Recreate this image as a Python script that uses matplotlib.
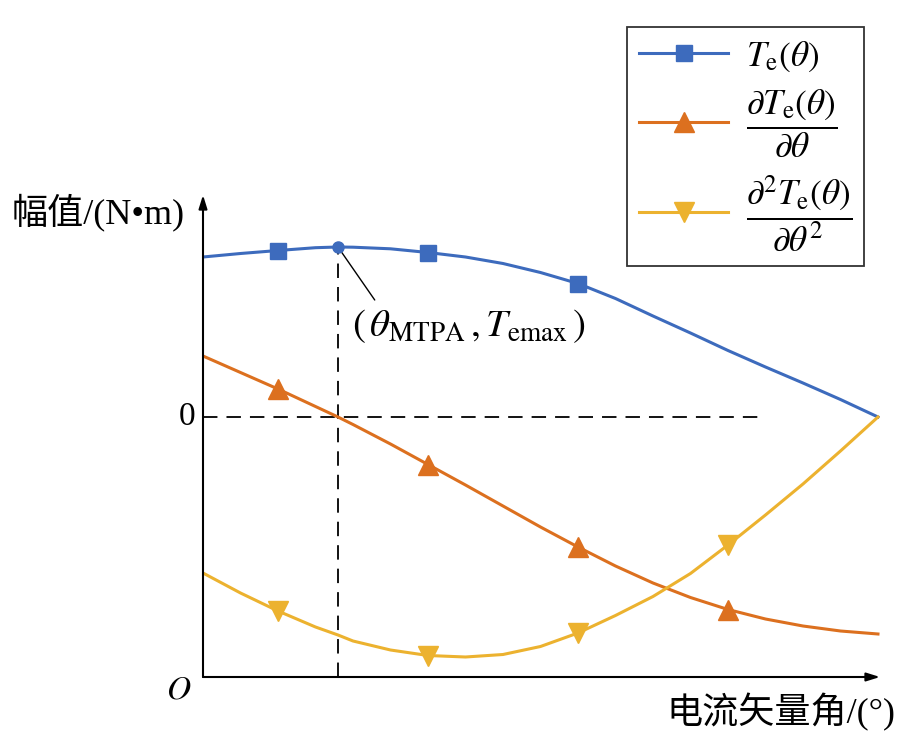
import matplotlib
matplotlib.use("Agg")
import matplotlib.pyplot as plt
from matplotlib.lines import Line2D

plt.rcParams['font.family'] = ['Liberation Serif', 'Noto Sans CJK SC', 'DejaVu Sans']
plt.rcParams['mathtext.fontset'] = 'stix'

# 电流矢量角 (deg), 约每 5 度读一个点, 另加 MTPA 点 18 度
theta = [0, 5, 10, 15, 18, 20, 25, 30, 35, 40, 45, 50, 55, 60, 65, 70, 75, 80, 85, 90]
te = [16.0, 16.35, 16.65, 16.93, 17.0, 16.98, 16.82, 16.45, 16.0, 15.35, 14.45,
      13.35, 11.85, 10.1, 8.4, 6.65, 5.0, 3.4, 1.75, 0.0]
dte = [6.1, 4.45, 2.8, 1.05, 0.0, -0.75, -2.7, -4.75, -6.8, -8.9, -11.0,
       -13.0, -14.9, -16.6, -18.05, -19.25, -20.2, -20.9, -21.4, -21.7]
d2te = [-15.6, -17.6, -19.4, -21.0, -21.8, -22.4, -23.3, -23.85, -24.0, -23.75, -22.95,
        -21.6, -19.85, -17.95, -15.65, -12.8, -9.8, -6.7, -3.4, 0.0]

# 标记所在的下标 (10, 30, 50, 70 度)
mk_te = [2, 7, 11]
mk_d = [2, 7, 11, 15]

theta_mtpa = 18
te_max = 17.0
zero_end = 74.3

c_blue = '#3d6bbd'
c_orange = '#dc701f'
c_yellow = '#ecb22f'

fig = plt.figure(figsize=(9, 7.35), dpi=100)
ax = fig.add_axes([203/900, 1-677/735, 677/900, 482/735])
ax.set_xlim(0, 90.27)
ax.set_ylim(-26.0, 22.2)
for s in ax.spines.values():
    s.set_visible(False)
ax.set_xticks([])
ax.set_yticks([])

ax.plot(theta, te, color=c_blue, lw=2.2, marker='s', ms=12, markevery=mk_te, zorder=3)
ax.plot(theta, dte, color=c_orange, lw=2.2, marker='^', ms=14, markevery=mk_d, zorder=3)
ax.plot(theta, d2te, color=c_yellow, lw=2.2, marker='v', ms=14, markevery=mk_d, zorder=3)

# 辅助虚线
ax.plot([0, zero_end], [0, 0], color='black', lw=1.3, ls=(0, (8, 5)), zorder=2)
ax.plot([theta_mtpa, theta_mtpa], [-26.0, te_max], color='black', lw=1.3, ls=(0, (8, 5)), zorder=2)
ax.plot([theta_mtpa], [te_max], 'o', color=c_blue, ms=8, zorder=4)
ax.annotate('', xy=(theta_mtpa, te_max), xytext=(22.9, 11.7),
            arrowprops=dict(arrowstyle='-', color='black', lw=1.0, shrinkA=0, shrinkB=3))
ax.text(35.4, 9.1, r'$(\,\theta_{\mathrm{MTPA}}\,,T_{\mathrm{emax}}\,)$',
        ha='center', va='center', fontsize=28)

# 坐标轴箭头
ax.annotate('', xy=(1, 0), xycoords='axes fraction', xytext=(0, 0),
            arrowprops=dict(arrowstyle='-|>,head_length=0.8,head_width=0.25',
                            color='black', lw=1.5, shrinkA=0, shrinkB=0))
ax.annotate('', xy=(0, 1), xycoords='axes fraction', xytext=(0, 0),
            arrowprops=dict(arrowstyle='-|>,head_length=0.8,head_width=0.25',
                            color='black', lw=1.5, shrinkA=0, shrinkB=0))

fig.text(12/900, 1-212/735, '幅值/(N•m)', fontsize=26, ha='left', va='center')
fig.text(895/900, 1-712/735, '电流矢量角/(°)', fontsize=26, ha='right', va='center')
fig.text(195/900, 1-417/735, '0', fontsize=24, ha='right', va='center')
fig.text(191/900, 1-690/735, '$O$', fontsize=24, ha='right', va='center')

handles = [Line2D([], [], color=c_blue, lw=2.2, marker='s', ms=12),
           Line2D([], [], color=c_orange, lw=2.2, marker='^', ms=14),
           Line2D([], [], color=c_yellow, lw=2.2, marker='v', ms=14)]
labels = [r'$T_{\mathrm{e}}(\theta)$',
          r'$\dfrac{\mathrm{\partial} T_{\mathrm{e}}(\theta)}{\mathrm{\partial}\theta}$',
          r'$\dfrac{\mathrm{\partial}^2 T_{\mathrm{e}}(\theta)}{\mathrm{\partial}\theta^2}$']
leg = fig.legend(handles, labels, loc='upper right', bbox_to_anchor=(864/900, 1-27/735),
                 fontsize=25.5, frameon=True, fancybox=False, edgecolor='black',
                 handlelength=2.5, labelspacing=0.4, borderpad=0.35, handletextpad=0.5,
                 borderaxespad=0)
leg.get_frame().set_linewidth(1.3)

fig.savefig('out.png', dpi=100)
